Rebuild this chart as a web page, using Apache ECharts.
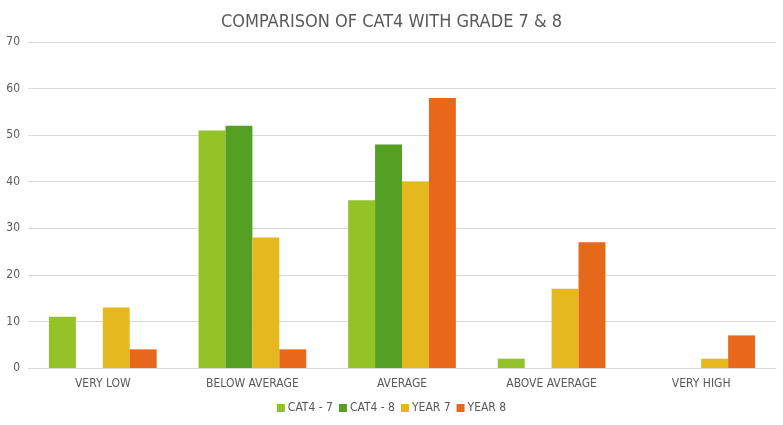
<!DOCTYPE html>
<html>
<head>
<meta charset="utf-8">
<script src="https://cdn.jsdelivr.net/npm/echarts@6/dist/echarts.min.js"></script>
<style>
  html, body { margin: 0; padding: 0; background: #fff; }
  #chart { width: 783px; height: 425px; }
</style>
</head>
<body>
<div id="chart"></div>
<script>
var categories = ['VERY LOW', 'BELOW AVERAGE', 'AVERAGE', 'ABOVE AVERAGE', 'VERY HIGH'];
var seriesNames = ['CAT4 - 7', 'CAT4 - 8', 'YEAR 7', 'YEAR 8'];
var cat4Grade7 = [11, 51, 36, 2, 0];
var cat4Grade8 = [0, 52, 48, 0, 0];
var year7 = [13, 28, 40, 17, 2];
var year8 = [4, 4, 58, 27, 7];
var colors = ['#93C327', '#55A022', '#E6B820', '#E8681B'];

var fontFam = '"DejaVu Sans Condensed", "DejaVu Sans", sans-serif';
var chart = echarts.init(document.getElementById('chart'));

var values = [cat4Grade7, cat4Grade8, year7, year8];
var series = [];
for (var i = 0; i < values.length; i++) {
    series.push({
        name: seriesNames[i],
        type: 'bar',
        data: values[i],
        barGap: '0%',
        barCategoryGap: '28%',
        itemStyle: { color: colors[i] }
    });
}

chart.setOption({
    animation: false,
    title: {
        text: 'COMPARISON OF CAT4 WITH GRADE 7 & 8',
        left: 'center',
        top: 8,
        textStyle: { color: '#595959', fontSize: 18, fontWeight: 'normal', fontFamily: fontFam }
    },
    legend: {
        bottom: 6,
        left: 'center',
        itemWidth: 8,
        itemHeight: 8,
        itemGap: 6,
        icon: 'rect',
        textStyle: { color: '#595959', fontSize: 12, fontFamily: fontFam, padding: [0, 0, 0, -2] }
    },
    grid: { left: 28, right: 7, top: 42, bottom: 57, containLabel: false },
    xAxis: {
        type: 'category',
        data: categories,
        axisLine: { lineStyle: { color: '#D9D9D9' } },
        axisTick: { show: false },
        axisLabel: { color: '#595959', fontSize: 12, fontFamily: fontFam, margin: 10 }
    },
    yAxis: {
        type: 'value',
        min: 0,
        max: 70,
        interval: 10,
        axisLine: { show: false },
        axisTick: { show: false },
        splitLine: { lineStyle: { color: '#D9D9D9' } },
        axisLabel: { color: '#595959', fontSize: 12, fontFamily: fontFam, margin: 8 }
    },
    series: series
});
</script>
</body>
</html>
